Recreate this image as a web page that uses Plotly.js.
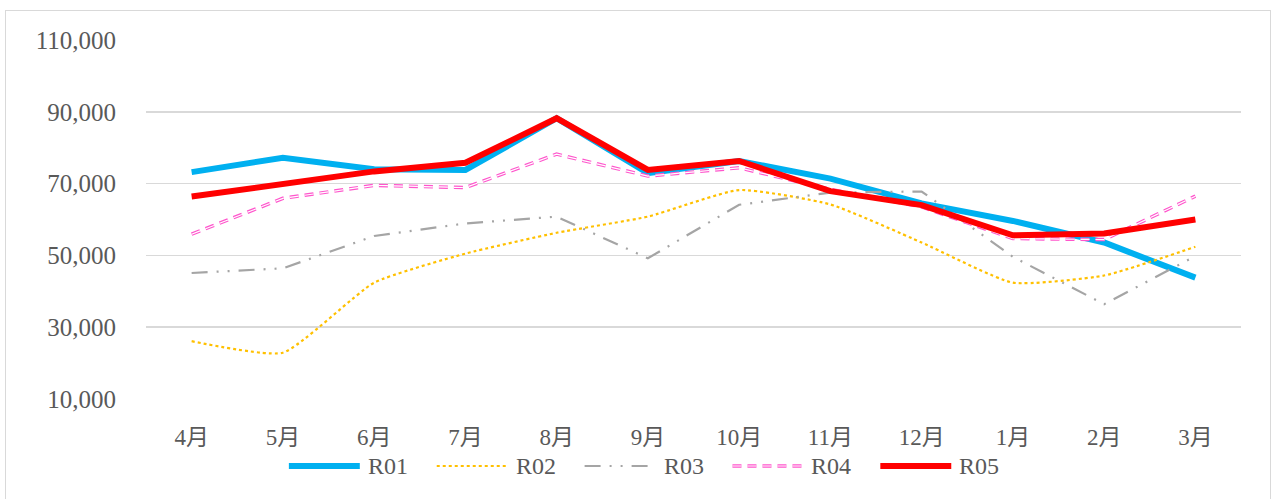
<!DOCTYPE html>
<html>
<head>
<meta charset="utf-8">
<script src="https://cdn.plot.ly/plotly-3.0.1.min.js"></script>
<style>
html,body{margin:0;padding:0;background:#fff;overflow:hidden;}
#chart{position:absolute;left:5px;top:10px;width:1264px;height:500px;border:1.5px solid #d9d9d9;}
</style>
</head>
<body>
<div id="chart"></div>
<script>
const months = ['4月','5月','6月','7月','8月','9月','10月','11月','12月','1月','2月','3月'];
const R01 = [73200, 77200, 74000, 73800, 88200, 72900, 76300, 71400, 64500, 59600, 53600, 43800];
const R02 = [26100, 22900, 42400, 50500, 56300, 60800, 68200, 64200, 53600, 42400, 44400, 52400];
const R03 = [45100, 46400, 55400, 58900, 60800, 49200, 64100, 67500, 67800, 49600, 36400, 49800];
const R04 = [55900, 65900, 69500, 68900, 78200, 72100, 74400, 68400, 63500, 54700, 54400, 66500];
const R05 = [66400, 69800, 73400, 75800, 88200, 73800, 76300, 67900, 64000, 55600, 56100, 60000];
const seriesNames = ['R01','R02','R03','R04','R05'];
const yTicks = [10000, 30000, 50000, 70000, 90000, 110000];
const yTickText = ['10,000','30,000','50,000','70,000','90,000','110,000'];

const FONT = '"Liberation Serif", "DejaVu Serif", "Noto Sans CJK JP", serif';
const GREY = '#595959';
const pinkDash = '9px,6px';

const styles = [
  {color: '#00B0F0', width: 6},
  {color: '#FFC000', width: 2.2, dash: 'dot'},
  {color: '#A5A5A5', width: 2.2, dash: '16px,9px,2px,9px,2px,9px'},
  {color: '#FF55CC', width: 3.5, dash: pinkDash},
  {color: '#FF0000', width: 6}
];
const data = [R01, R02, R03, R04, R05];

const traces = [];
data.forEach((vals, i) => {
  const ln = Object.assign({}, styles[i]);
  if (i === 1) { ln.shape = 'spline'; ln.smoothing = 0.5; }
  traces.push({x: months, y: vals, name: seriesNames[i], mode: 'lines', line: ln, showlegend: false});
  if (i === 3) {
    traces.push({x: months, y: vals, name: seriesNames[i], mode: 'lines', showlegend: false,
                 hoverinfo: 'skip', line: {color: '#ffffff', width: 1.2, dash: pinkDash}});
  }
});

// custom legend (line samples + labels) below the plot, in paper coordinates
const plotLeftPx = 146, plotWidthPx = 1096, plotHeightPx = 359;
const toPx = px => (px - plotLeftPx) / plotWidthPx;
const legY = -67 / plotHeightPx;
const legStart = 289, legPeriod = 148, sampleLen = 71, textOff = 77;
const shapes = [], annotations = [];
seriesNames.forEach((nm, i) => {
  const x0 = legStart + i * legPeriod;
  const ln = Object.assign({}, styles[i]);
  shapes.push({type: 'line', xref: 'paper', yref: 'paper', x0: toPx(x0), x1: toPx(x0 + sampleLen),
               y0: legY, y1: legY, line: ln, layer: 'above'});
  if (i === 3) {
    shapes.push({type: 'line', xref: 'paper', yref: 'paper', x0: toPx(x0), x1: toPx(x0 + sampleLen),
                 y0: legY, y1: legY, line: {color: '#ffffff', width: 1.2, dash: pinkDash}, layer: 'above'});
  }
  annotations.push({xref: 'paper', yref: 'paper', x: toPx(x0 + textOff), y: legY, xanchor: 'left',
                    yanchor: 'middle', text: nm, showarrow: false,
                    font: {family: FONT, size: 24, color: GREY}});
});

const layout = {
  width: 1264, height: 500,
  margin: {l: 140, r: 29, t: 29, b: 112},
  paper_bgcolor: '#ffffff', plot_bgcolor: '#ffffff',
  font: {family: FONT, color: GREY, size: 24},
  showlegend: false,
  shapes: shapes,
  annotations: annotations,
  xaxis: {type: 'category', range: [-0.5, 11.5], showgrid: false, zeroline: false,
          showline: false, ticks: '', ticklabelstandoff: 22,
          tickfont: {family: FONT, size: 23, color: GREY}},
  yaxis: {range: [10000, 110000], tickvals: yTicks, ticktext: yTickText,
          showgrid: true, gridcolor: '#d9d9d9', gridwidth: 1.5, zeroline: false,
          showline: false, ticks: '', ticklabelstandoff: 29,
          tickfont: {family: FONT, size: 25, color: GREY}}
};

Plotly.newPlot('chart', traces, layout, {displayModeBar: false, staticPlot: true});
</script>
</body>
</html>
